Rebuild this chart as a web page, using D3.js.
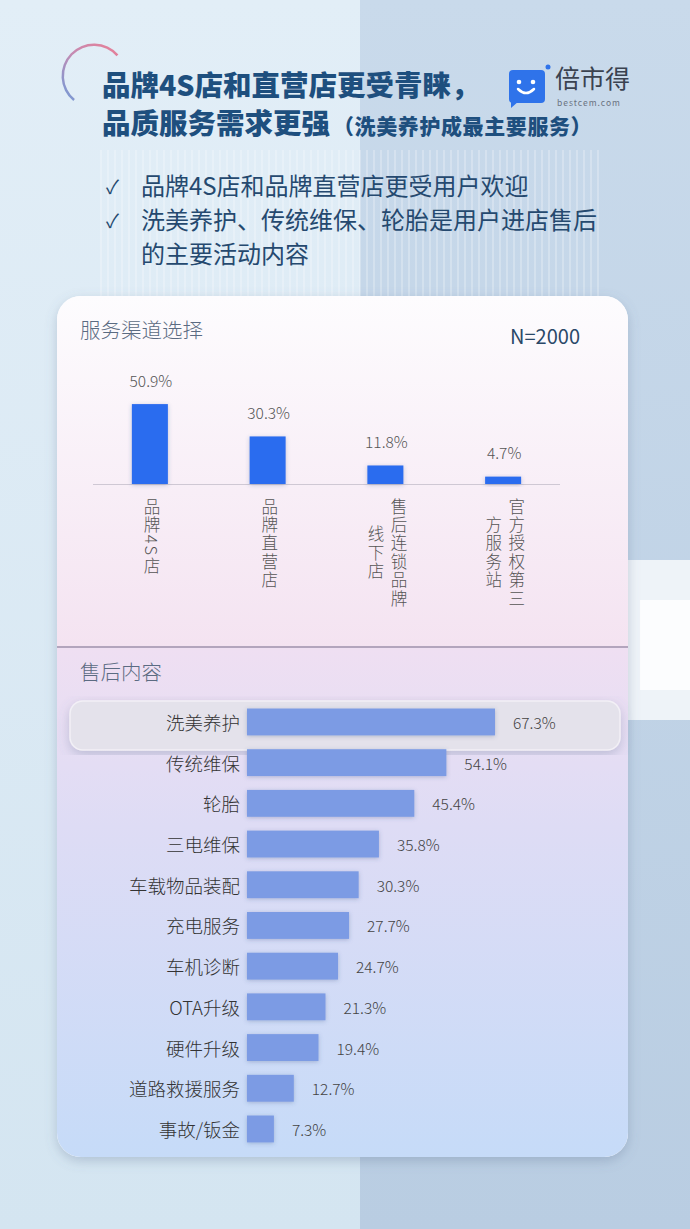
<!DOCTYPE html>
<html><head><meta charset="utf-8">
<script src="https://cdn.jsdelivr.net/npm/d3@7/dist/d3.min.js"></script>
<style>html,body{margin:0;padding:0;background:#dcebf5;}svg{display:block;}text{font-family:"Noto Sans CJK SC","Noto Sans",sans-serif;}</style>
</head><body>
<script>
const channelCats = ["品牌4S店", "品牌直营店", "售后连锁品牌\n线下店", "官方授权第三\n方服务站"];
const channelVals = [50.9, 30.3, 11.8, 4.7];
const serviceCats = ["洗美养护", "传统维保", "轮胎", "三电维保", "车载物品装配", "充电服务", "车机诊断", "OTA升级", "硬件升级", "道路救援服务", "事故/钣金"];
const serviceVals = [67.3, 54.1, 45.4, 35.8, 30.3, 27.7, 24.7, 21.3, 19.4, 12.7, 7.3];
const bullets = [["品牌4S店和品牌直营店更受用户欢迎"], ["洗美养护、传统维保、轮胎是用户进店售后", "的主要活动内容"]];

const W = 690, H = 1229;
const svg = d3.select("body").append("svg").attr("width", W).attr("height", H);
const defs = svg.append("defs");

// gradients
const bgL = defs.append("linearGradient").attr("id","bgL").attr("x1",0).attr("y1",0).attr("x2",0).attr("y2",1);
bgL.append("stop").attr("offset","0").attr("stop-color","#e2eef7");
bgL.append("stop").attr("offset","1").attr("stop-color","#d4e5f1");
const bgR = defs.append("linearGradient").attr("id","bgR").attr("x1",0).attr("y1",0).attr("x2",0).attr("y2",1);
bgR.append("stop").attr("offset","0").attr("stop-color","#c9daeb");
bgR.append("stop").attr("offset","1").attr("stop-color","#b9cde2");
const cg1 = defs.append("linearGradient").attr("id","cg1").attr("x1",0).attr("y1",0).attr("x2",0).attr("y2",1);
cg1.append("stop").attr("offset","0").attr("stop-color","#fdfcfe");
cg1.append("stop").attr("offset","1").attr("stop-color","#f4e3f1");
const cg2 = defs.append("linearGradient").attr("id","cg2").attr("x1",0).attr("y1",0).attr("x2",0).attr("y2",1);
cg2.append("stop").attr("offset","0").attr("stop-color","#efdff2");
cg2.append("stop").attr("offset","0.35").attr("stop-color","#dedcf5");
cg2.append("stop").attr("offset","1").attr("stop-color","#c6dbf8");
const arcG = defs.append("linearGradient").attr("id","arcG").attr("x1",1).attr("y1",0).attr("x2",0).attr("y2",1);
arcG.append("stop").attr("offset","0").attr("stop-color","#e97f96");
arcG.append("stop").attr("offset","0.5").attr("stop-color","#c48bb3");
arcG.append("stop").attr("offset","1").attr("stop-color","#6f9bd8");
const sh = defs.append("filter").attr("id","sh").attr("x","-10%").attr("y","-10%").attr("width","120%").attr("height","120%");
sh.append("feDropShadow").attr("dx",0).attr("dy",4).attr("stdDeviation",6).attr("flood-color","#5a6f90").attr("flood-opacity",0.3);
const bsh = defs.append("filter").attr("id","bsh").attr("x","-20%").attr("y","-30%").attr("width","140%").attr("height","160%");
bsh.append("feDropShadow").attr("dx",0).attr("dy",1).attr("stdDeviation",2).attr("flood-color","#3a4f80").attr("flood-opacity",0.3);

// background
svg.append("rect").attr("width",W).attr("height",H).attr("fill","url(#bgL)");
svg.append("rect").attr("x",360).attr("y",0).attr("width",330).attr("height",H).attr("fill","url(#bgR)");
svg.append("rect").attr("x",628).attr("y",560).attr("width",62).attr("height",160).attr("fill","#eef3f8");
svg.append("rect").attr("x",640).attr("y",600).attr("width",50).attr("height",90).attr("fill","#ffffff").attr("opacity",0.8);
// faint stripes
const stripes = svg.append("g").attr("opacity",0.25);
for (let x = 100; x < 600; x += 7) {
  stripes.append("rect").attr("x",x).attr("y",150).attr("width",2).attr("height",150).attr("fill","#ffffff");
}

// header arc
const arc = d3.arc().innerRadius(30).outerRadius(32.5).startAngle(Math.PI*0.27).endAngle(-Math.PI*0.78);
svg.append("path").attr("d",arc()).attr("transform","translate(94,76)").attr("fill","url(#arcG)");

// title
const title = svg.append("g").attr("fill","#1e4f7e").attr("font-weight",900);
title.append("text").attr("x",102).attr("y",96).attr("font-size",28.5).text("品牌4S店和直营店更受青睐，");
const t2 = title.append("text").attr("x",102).attr("y",134).attr("font-size",28.5);
t2.append("tspan").text("品质服务需求更强");
t2.append("tspan").attr("font-size",21).attr("dx",3).attr("letter-spacing",0.6).text("（洗美养护成最主要服务）");

// logo
svg.append("rect").attr("x",509).attr("y",70).attr("width",36).attr("height",33).attr("rx",4).attr("fill","#2f73ea");
svg.append("path").attr("d","M511,100 L511,108 L519,101 Z").attr("fill","#2f73ea");
svg.append("circle").attr("cx",519).attr("cy",82).attr("r",2.3).attr("fill","#fff");
svg.append("circle").attr("cx",533).attr("cy",82).attr("r",2.3).attr("fill","#fff");
svg.append("path").attr("d","M518,89 Q526,97 534,89").attr("stroke","#fff").attr("stroke-width",2.5).attr("fill","none").attr("stroke-linecap","round");
svg.append("circle").attr("cx",548).attr("cy",67).attr("r",2.5).attr("fill","#2f73ea");
svg.append("text").attr("x",555).attr("y",88).attr("font-size",25).attr("fill","#3a4250").text("倍市得");
svg.append("text").attr("x",557).attr("y",105.5).attr("font-size",8.5).attr("fill","#6a7280").attr("letter-spacing",1).text("bestcem.com");

// bullets
const bl = svg.append("g").attr("fill","#25496f").attr("font-size",24);
let by = 194.5;
bullets.forEach(lines => {
  bl.append("text").attr("x",106).attr("y",by-1).attr("font-size",19).text("✓");
  lines.forEach(l => {
    bl.append("text").attr("x",141).attr("y",by).text(l);
    by += 34;
  });
});

// card
svg.append("rect").attr("x",57).attr("y",296).attr("width",571).attr("height",861).attr("rx",24).attr("fill","#fff").attr("filter","url(#sh)");
defs.append("clipPath").attr("id","cardClip").append("rect").attr("x",57).attr("y",296).attr("width",571).attr("height",861).attr("rx",24);
const card = svg.append("g").attr("clip-path","url(#cardClip)");
card.append("rect").attr("x",57).attr("y",296).attr("width",571).attr("height",352).attr("fill","url(#cg1)");
card.append("rect").attr("x",57).attr("y",648).attr("width",571).attr("height",509).attr("fill","url(#cg2)");
card.append("line").attr("x1",57).attr("x2",628).attr("y1",647).attr("y2",647).attr("stroke","#b3a5bd").attr("stroke-width",2);

// top chart
svg.append("text").attr("x",80).attr("y",338).attr("font-size",20.5).attr("font-weight",300).attr("fill","#5b6b82").text("服务渠道选择");
svg.append("text").attr("x",580).attr("y",344).attr("font-size",20).attr("fill","#2a4868").attr("text-anchor","end").text("N=2000");

const xb = d3.scaleBand().domain(channelCats).range([92, 563]);
const yv = d3.scaleLinear().domain([0, 100]).range([484, 327]);
const bw = 36;
const topG = svg.append("g");
topG.append("line").attr("x1",93).attr("x2",560).attr("y1",484.5).attr("y2",484.5).attr("stroke","#cfc8d4").attr("stroke-width",1.2);
topG.selectAll("rect.cb").data(channelVals).join("rect").attr("class","cb")
  .attr("x",(d,i)=>xb(channelCats[i])+xb.bandwidth()/2-bw/2-1)
  .attr("y",d=>yv(d)).attr("width",bw).attr("height",d=>yv(0)-yv(d))
  .attr("fill","#2b6cef").attr("filter","url(#bsh)");
topG.selectAll("text.cv").data(channelVals).join("text").attr("class","cv")
  .attr("x",(d,i)=>xb(channelCats[i])+xb.bandwidth()/2)
  .attr("y",d=>yv(d)-17.5).attr("text-anchor","middle").attr("font-size",15.5).attr("font-weight",300).attr("fill","#555")
  .text(d=>d.toFixed(1)+"%");

// vertical category labels
const charStep = 18.4, vfs = 16.5;
channelCats.forEach(cat => {
  const cx = xb(cat) + xb.bandwidth()/2 + 1;
  const lines = cat.split("\n");
  const colGap = lines.length > 1 ? 23 : 0;
  const firstLen = Array.from(lines[0]).length;
  lines.forEach((line, li) => {
    const chars = Array.from(line);
    const x = cx + (lines.length - 1) * colGap / 2 - li * colGap;
    const y0 = 498 + (li === 0 ? 0 : (firstLen - chars.length) * charStep / 2);
    svg.append("text").attr("x",x).attr("y",y0)
      .attr("font-size",vfs).attr("font-weight",300).attr("fill","#555")
      .style("writing-mode","vertical-rl").style("text-orientation","mixed")
      .attr("letter-spacing",charStep - vfs).text(line);
  });
});

// bottom chart
svg.append("text").attr("x",80).attr("y",680).attr("font-size",20.5).attr("font-weight",300).attr("fill","#5b6b82").text("售后内容");
svg.append("rect").attr("x",70).attr("y",701).attr("width",550).attr("height",49).attr("rx",13)
  .attr("fill","#e4e2eb").attr("stroke","#f2f0f6").attr("stroke-width",1.5).attr("filter","url(#sh)");

const xh = d3.scaleLinear().domain([0, 100]).range([247, 615.5]);
const yb = d3.scaleBand().domain(serviceCats).range([701.6, 1149.3]).paddingInner(0.34).paddingOuter(0.17);
const bot = svg.append("g");
bot.selectAll("rect.sb").data(serviceVals).join("rect").attr("class","sb")
  .attr("x",xh(0)).attr("y",(d,i)=>yb(serviceCats[i]))
  .attr("width",d=>xh(d)-xh(0)).attr("height",yb.bandwidth())
  .attr("fill","#7b9be4").attr("filter","url(#bsh)");
bot.selectAll("text.sl").data(serviceCats).join("text").attr("class","sl")
  .attr("x",240).attr("y",d=>yb(d)+yb.bandwidth()/2).attr("dominant-baseline","central")
  .attr("text-anchor","end").attr("font-size",18.5).attr("font-weight",300).attr("fill","#333").text(d=>d);
bot.selectAll("text.sv").data(serviceVals).join("text").attr("class","sv")
  .attr("x",d=>xh(d)+18).attr("y",(d,i)=>yb(serviceCats[i])+yb.bandwidth()/2).attr("dominant-baseline","central")
  .attr("font-size",15.5).attr("font-weight",300).attr("fill","#444").text(d=>d.toFixed(1)+"%");
</script>
</body></html>
